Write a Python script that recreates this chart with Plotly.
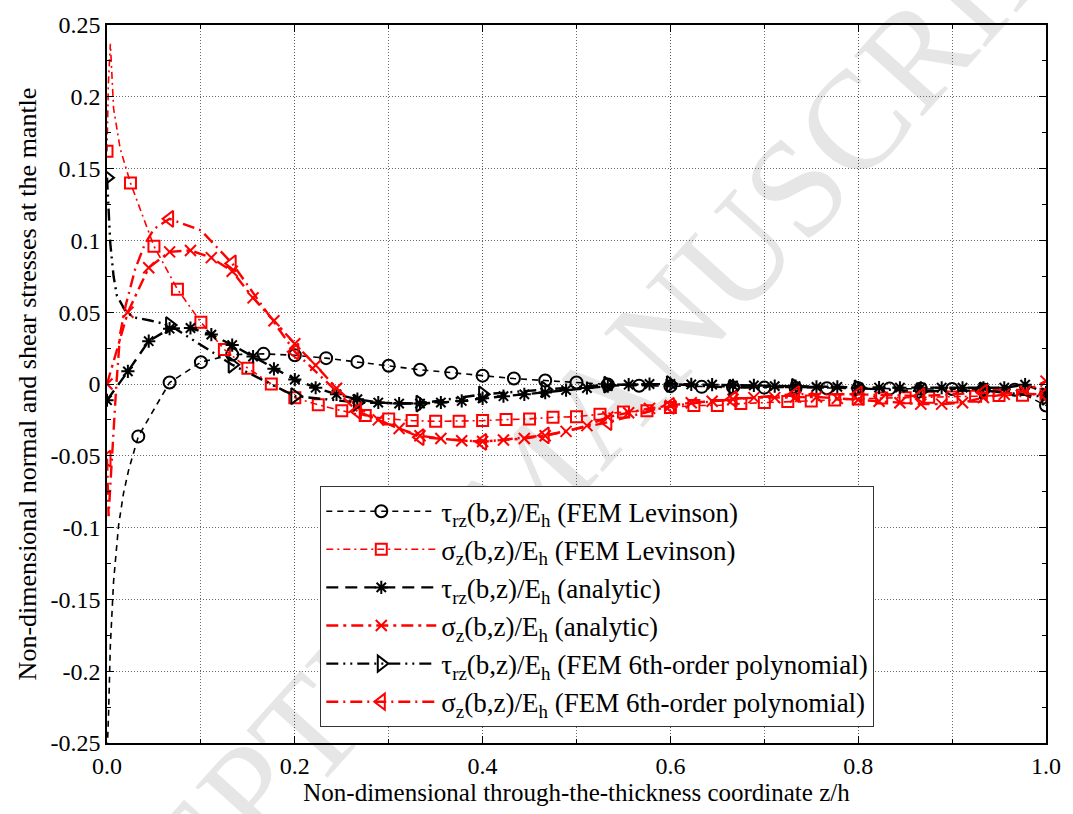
import numpy as np
import plotly.graph_objects as go

# ---------------- data ----------------
# tau_rz FEM Levinson (markers every 1/30, from z/h = 1/30)
lev_tau_x = np.linspace(1/30, 1.0, 30)
lev_tau_y = [-0.0365, 0.001, 0.0152, 0.0205, 0.021, 0.020, 0.018, 0.0154, 0.0127, 0.0099,
             0.0079, 0.0058, 0.0038, 0.0024, 0.001, -0.0003, -0.0012, -0.0015, -0.002, -0.0022,
             -0.0025, -0.0028, -0.003, -0.003, -0.0032, -0.0033, -0.0035, -0.0038, -0.004, -0.015]
lev_tau_edge_x = [0.0, 0.0006, 0.0017, 0.0035, 0.007, 0.0123, 0.0176, 0.023]
lev_tau_edge_y = [-0.30, -0.249, -0.229, -0.183, -0.1375, -0.0986, -0.076, -0.060]

# sigma_z FEM Levinson (markers every 0.025)
lev_sig_x = np.linspace(0.0, 1.0, 41)
lev_sig_y = [0.162, 0.140, 0.096, 0.066, 0.043, 0.024, 0.011, 0.000, -0.0095, -0.0145,
             -0.0186, -0.022, -0.0243, -0.0255, -0.026, -0.026, -0.0255, -0.0248, -0.0243, -0.0232,
             -0.0228, -0.021, -0.0195, -0.0187, -0.0163, -0.015, -0.015, -0.0136, -0.0129, -0.0122,
             -0.0118, -0.0112, -0.0105, -0.0098, -0.0095, -0.0093, -0.009, -0.0085, -0.008, -0.0078,
             -0.0072]
lev_sig_edge_x = [0.0015, 0.0036, 0.007, 0.014, 0.021]
lev_sig_edge_y = [0.21, 0.237, 0.192, 0.164, 0.148]

# tau_rz analytic (markers every 1/45)
an_tau_x = np.linspace(0.0, 1.0, 46)
an_tau_y = [-0.0113, 0.0088, 0.0298, 0.0385, 0.039, 0.0344, 0.0271, 0.0191, 0.0106, 0.0031,
            -0.0026, -0.0072, -0.0106, -0.0129, -0.0136, -0.0136, -0.0129, -0.0118, -0.0100, -0.0085,
            -0.0072, -0.006, -0.0042, -0.0028, -0.0015, -0.0005, 0.0, 0.0, -0.0003, -0.0005,
            -0.001, -0.001, -0.0015, -0.0015, -0.002, -0.002, -0.0025, -0.0025, -0.0026, -0.0026,
            -0.0026, -0.0026, -0.0026, -0.0026, -0.0005, -0.006]

# sigma_z analytic (markers every 1/45)
an_sig_x = np.linspace(0.0, 1.0, 46)
an_sig_y = [0.0, 0.050, 0.081, 0.092, 0.093, 0.088, 0.0785, 0.060, 0.044, 0.028,
            0.013, -0.003, -0.016, -0.025, -0.031, -0.036, -0.038, -0.0395, -0.040, -0.039,
            -0.038, -0.036, -0.033, -0.029, -0.023, -0.020, -0.017, -0.015, -0.013, -0.012,
            -0.0106, -0.0095, -0.0095, -0.009, -0.009, -0.010, -0.011, -0.012, -0.013, -0.014,
            -0.014, -0.013, -0.0095, -0.0072, -0.005, 0.002]

# tau_rz FEM 6th-order polynomial (markers every 1/15)
p6_tau_x = np.linspace(0.0, 1.0, 16)
p6_tau_y = [0.1437, 0.041, 0.0134, -0.0084, -0.0129, -0.0136, -0.0072, -0.0038, -0.0005, 0.0,
            -0.0026, -0.002, -0.003, -0.005, -0.0045, -0.009]
p6_tau_edge_x = [0.0015, 0.0035, 0.007, 0.0106, 0.0195, 0.028, 0.046]
p6_tau_edge_y = [0.125, 0.098, 0.075, 0.0614, 0.051, 0.0465, 0.0442]

# sigma_z FEM 6th-order polynomial (markers every 1/15)
p6_sig_x = np.linspace(0.0, 1.0, 16)
p6_sig_y = [-0.052, 0.115, 0.084, 0.0225, -0.019, -0.037, -0.0403, -0.0358, -0.0266, -0.0152,
            -0.0106, -0.007, -0.0072, -0.0084, -0.006, -0.0072]
p6_sig_edge_x = [0.0017, 0.0035, 0.007, 0.010, 0.014, 0.020, 0.030, 0.040, 0.050, 0.100]
p6_sig_edge_y = [-0.092, -0.071, -0.028, 0.0, 0.035, 0.055, 0.080, 0.097, 0.108, 0.107]

x_tick_vals = [0.0, 0.2, 0.4, 0.6, 0.8, 1.0]
x_tick_text = ["0.0", "0.2", "0.4", "0.6", "0.8", "1.0"]
y_tick_vals = [0.25, 0.2, 0.15, 0.1, 0.05, 0.0, -0.05, -0.1, -0.15, -0.2, -0.25]
y_tick_text = ["0.25", "0.2", "0.15", "0.1", "0.05", "0", "-0.05", "-0.1", "-0.15", "-0.2", "-0.25"]

names = [
    "τ<sub>rz</sub>(b,z)/E<sub>h</sub> (FEM Levinson)",
    "σ<sub>z</sub>(b,z)/E<sub>h</sub> (FEM Levinson)",
    "τ<sub>rz</sub>(b,z)/E<sub>h</sub> (analytic)",
    "σ<sub>z</sub>(b,z)/E<sub>h</sub> (analytic)",
    "τ<sub>rz</sub>(b,z)/E<sub>h</sub> (FEM 6th-order polynomial)",
    "σ<sub>z</sub>(b,z)/E<sub>h</sub> (FEM 6th-order polynomial)",
]

FONT = "Liberation Serif"
RED = "#ff0000"
BLK = "#000000"
GRID = "rgba(80,80,80,0.85)"


def merged(mx, my, ex, ey):
    xs = list(mx) + list(ex)
    ys = list(my) + list(ey)
    order = np.argsort(xs, kind="stable")
    return [xs[i] for i in order], [ys[i] for i in order]


series = [
    (lev_tau_x, lev_tau_y, lev_tau_edge_x, lev_tau_edge_y, BLK, "6px,5px", 1.6, "circle-open", 12),
    (lev_sig_x, lev_sig_y, lev_sig_edge_x, lev_sig_edge_y, RED, "7px,4px,2px,4px", 1.6, "square-open", 11),
    (an_tau_x, an_tau_y, [], [], BLK, "12px,7px", 2.4, "asterisk-open", 11),
    (an_sig_x, an_sig_y, [], [], RED, "12px,5px,3px,5px", 2.4, "x-thin-open", 11),
    (p6_tau_x, p6_tau_y, p6_tau_edge_x, p6_tau_edge_y, BLK, "12px,5px,2px,5px,2px,5px", 2.4, "triangle-right-open", 14),
    (p6_sig_x, p6_sig_y, p6_sig_edge_x, p6_sig_edge_y, RED, "12px,5px,2px,5px", 2.4, "triangle-left-open", 14),
]

fig = go.Figure()
for i, (mx, my, ex, ey, col, dash, lw, sym, ms) in enumerate(series):
    lx, ly = merged(mx, my, ex, ey)
    fig.add_trace(go.Scatter(x=lx, y=ly, mode="lines", showlegend=False,
                             line=dict(color=col, width=lw, dash=dash), hoverinfo="skip"))
    fig.add_trace(go.Scatter(x=list(mx), y=list(my), mode="markers", showlegend=False,
                             marker=dict(symbol=sym, size=ms, color=col, line=dict(color=col, width=2))))
for i, (mx, my, ex, ey, col, dash, lw, sym, ms) in enumerate(series):
    fig.add_trace(go.Scatter(x=[None], y=[None], mode="lines+markers", name=names[i],
                             line=dict(color=col, width=lw, dash=dash),
                             marker=dict(symbol=sym, size=ms, color=col, line=dict(color=col, width=2))))

axis_common = dict(showline=True, linecolor="black", linewidth=1.5, mirror="ticks",
                   ticks="inside", ticklen=7, tickcolor="black", zeroline=False,
                   showgrid=True, gridcolor=GRID, griddash="1px,2px", gridwidth=1,
                   tickfont=dict(family=FONT, size=24, color="black"))

fig.update_xaxes(range=[0, 1.0], tickvals=x_tick_vals, ticktext=x_tick_text,
                 minor=dict(dtick=0.1, showgrid=True, gridcolor=GRID, griddash="1px,2px",
                            ticks="inside", ticklen=4, tickcolor="black"),
                 title=dict(text="Non-dimensional through-the-thickness coordinate z/h",
                            font=dict(family=FONT, size=25, color="black"), standoff=6),
                 **axis_common)
fig.update_yaxes(range=[-0.25, 0.25], tickvals=y_tick_vals, ticktext=y_tick_text,
                 minor=dict(dtick=0.025, showgrid=False, ticks="inside", ticklen=4, tickcolor="black"),
                 title=dict(text="Non-dimensional normal and shear stresses at the mantle",
                            font=dict(family=FONT, size=26, color="black"), standoff=6),
                 **axis_common)

fig.add_shape(type="rect", xref="paper", yref="paper", x0=0.36, x1=0.52, y0=0.33, y1=0.43,
              line=dict(width=0), fillcolor="rgba(0,0,0,0)", layer="below",
              label=dict(text="ACCEPTED MANUSCRIPT", textangle=-48,
                         font=dict(family=FONT, size=140, color="#e6e6e6")))

fig.update_layout(
    width=1073, height=814,
    margin=dict(l=107, r=23, t=15, b=70),
    paper_bgcolor="white", plot_bgcolor="white",
    font=dict(family=FONT, color="black"),
    legend=dict(x=(321 - 107) / 943, y=(744 - 483) / 729, xanchor="left", yanchor="top",
                bgcolor="white", bordercolor="#333333", borderwidth=1.2,
                font=dict(family=FONT, size=27, color="black"), itemwidth=110,
                tracegroupgap=0),
    showlegend=True,
)

fig.write_html("out.html")
